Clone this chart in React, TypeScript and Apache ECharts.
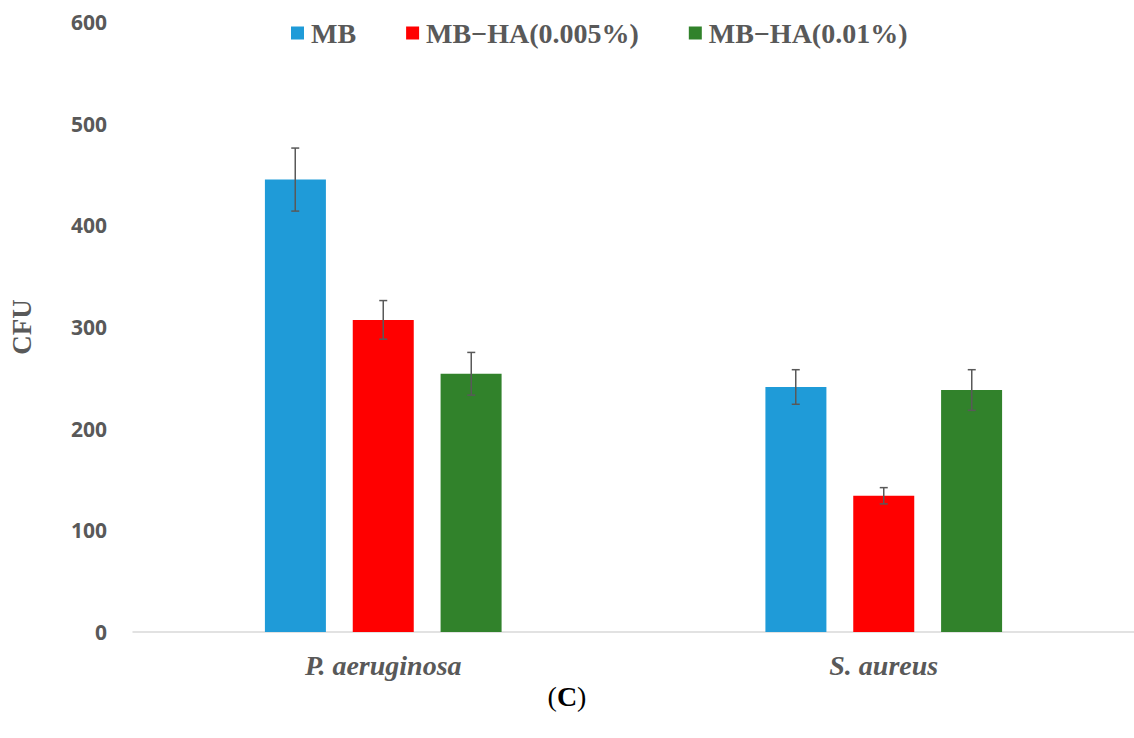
import React, { useEffect, useRef } from "react";
import * as echarts from "echarts";

const categories = ["P. aeruginosa", "S. aureus"];
const seriesNames = ["MB", "MB\u2212HA(0.005%)", "MB\u2212HA(0.01%)"];
const mbValues = [445, 241];
const ha005Values = [307, 134];
const ha01Values = [254, 238];
const mbErrors = [31, 17];
const ha005Errors = [19, 8];
const ha01Errors = [21, 20];
const yTicks = [0, 100, 200, 300, 400, 500, 600];
const colors = ["#1F9BD8", "#FF0000", "#31822B"];

export default function App() {
  const ref = useRef<HTMLDivElement>(null);
  useEffect(() => {
    if (!ref.current) return;
    const chart = echarts.init(ref.current, undefined, { renderer: "svg" });
    const values = [mbValues, ha005Values, ha01Values];
    const errors = [mbErrors, ha005Errors, ha01Errors];
    const barWidth = 61;
    const step = 88;
    const barSeries = values.map((vals, i) => ({
      name: seriesNames[i],
      type: "bar",
      data: vals,
      barWidth: barWidth,
      barGap: "44%",
      itemStyle: { color: colors[i] },
    }));
    const errSeries = values.map((vals, i) => ({
      name: "err" + i,
      type: "custom",
      z: 10,
      encode: { x: 0, y: 1 },
      data: vals.map((v, k) => [k, v, errors[i][k]]),
      renderItem: (params: any, api: any) => {
        const x = api.value(0);
        const v = api.value(1);
        const e = api.value(2);
        const top = api.coord([x, v + e]);
        const bot = api.coord([x, v - e]);
        const cx = top[0] + (i - 1) * step;
        const style = { stroke: "#595959", lineWidth: 1.5 };
        return {
          type: "group",
          children: [
            { type: "line", shape: { x1: cx, y1: top[1], x2: cx, y2: bot[1] }, style },
            { type: "line", shape: { x1: cx - 4, y1: top[1], x2: cx + 4, y2: top[1] }, style },
            { type: "line", shape: { x1: cx - 4, y1: bot[1], x2: cx + 4, y2: bot[1] }, style },
          ],
        };
      },
    }));
    chart.setOption({
      animation: false,
      grid: { left: 124, top: 22, width: 1020, height: 610 },
      legend: {
        data: seriesNames,
        left: 286,
        top: 14,
        itemWidth: 13,
        itemHeight: 13,
        itemGap: 50,
        icon: "rect",
        textStyle: {
          fontFamily: "Liberation Serif",
          fontWeight: "bold",
          fontSize: 28,
          color: "#595959",
          padding: [0, 0, 0, 2],
        },
      },
      xAxis: {
        type: "category",
        data: categories,
        axisLine: { show: true, lineStyle: { color: "#D9D9D9", width: 1.5 } },
        axisTick: { show: false },
        axisLabel: {
          margin: 19,
          fontFamily: "Liberation Serif",
          fontWeight: "bold",
          fontStyle: "italic",
          fontSize: 28,
          color: "#595959",
        },
      },
      yAxis: {
        type: "value",
        min: yTicks[0],
        max: yTicks[yTicks.length - 1],
        interval: 100,
        name: "CFU",
        nameLocation: "middle",
        nameGap: 98,
        nameTextStyle: {
          fontFamily: "Liberation Serif",
          fontWeight: "bold",
          fontSize: 27,
          color: "#595959",
        },
        axisLine: { show: false },
        axisTick: { show: false },
        splitLine: { show: false },
        axisLabel: {
          margin: 26,
          fontFamily: "Open Sans",
          fontWeight: "bold",
          fontSize: 21,
          color: "#595959",
        },
      },
      graphic: [
        {
          type: "text",
          left: "center",
          top: 682,
          style: {
            text: "({b|C})",
            fontFamily: "Liberation Serif",
            fontSize: 28,
            fill: "#000",
            rich: { b: { fontFamily: "Liberation Serif", fontWeight: "bold", fontSize: 28, fill: "#000" } },
          },
        },
      ],
      series: [...barSeries, ...errSeries],
    });
    return () => chart.dispose();
  }, []);
  return <div ref={ref} style={{ width: 1134, height: 738, position: "absolute", left: 0, top: 0 }} />;
}
